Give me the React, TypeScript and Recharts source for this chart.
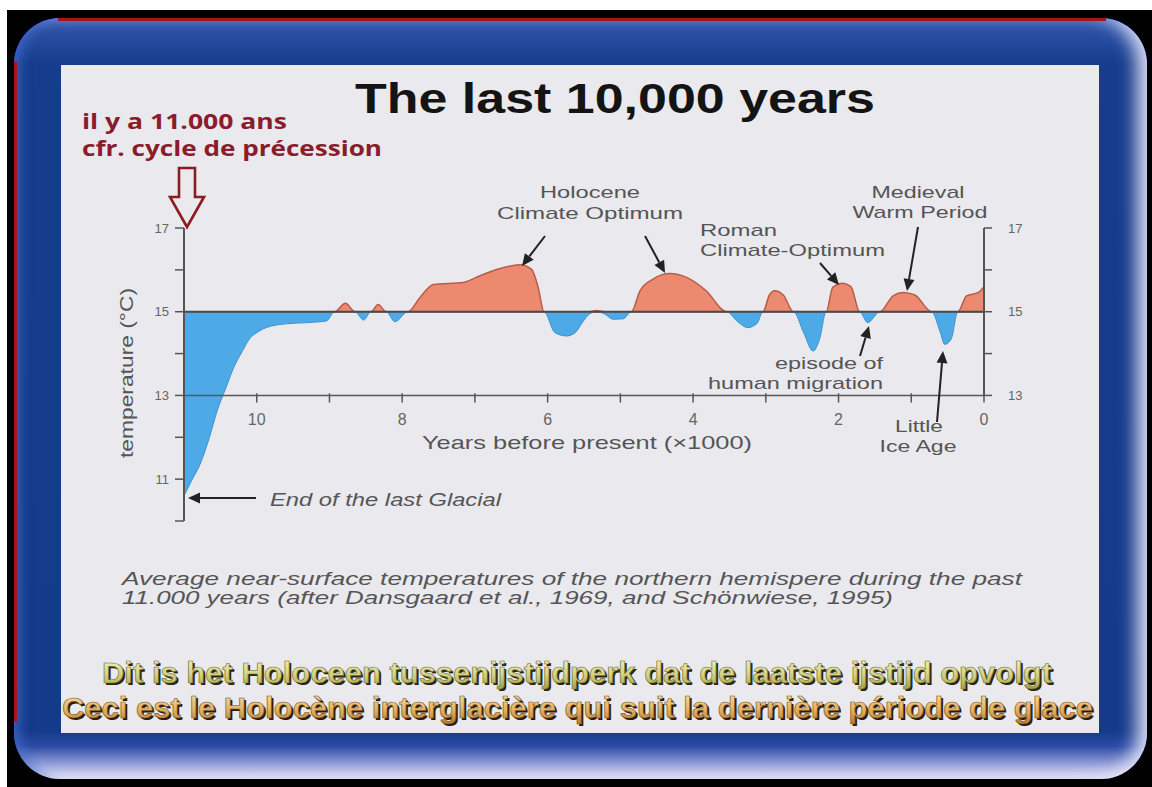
import React from 'react';
import { ComposedChart, Area, XAxis, YAxis, ReferenceLine, ReferenceDot } from 'recharts';

// ---- data (years before present ×1000, temperature °C) ----
const ages = [
  11.0, 10.9, 10.78, 10.65, 10.55, 10.42, 10.32, 10.2, 10.1, 9.98, 9.87, 9.6, 9.3, 9.04,
  8.93, 8.78, 8.65, 8.53, 8.43, 8.33, 8.22, 8.1, 7.92, 7.76, 7.57, 7.16, 6.93, 6.7, 6.38,
  6.22, 6.13, 6.05, 5.9, 5.74, 5.62, 5.52, 5.42, 5.33, 5.22, 5.1, 4.96, 4.85, 4.73, 4.55,
  4.32, 4.09, 3.82, 3.54, 3.38, 3.25, 3.12, 3.04, 2.95, 2.88, 2.76, 2.62, 2.48, 2.35, 2.26,
  2.17, 2.08, 1.94, 1.83, 1.71, 1.6, 1.43, 1.25, 1.11, 0.95, 0.72, 0.6, 0.54, 0.45, 0.36,
  0.24, 0.08, 0.0,
];
const temps = [
  10.6, 10.95, 11.35, 12.0, 12.6, 13.2, 13.65, 14.05, 14.35, 14.52, 14.62, 14.71, 14.74, 14.78,
  15.0, 15.2, 15.0, 14.8, 15.0, 15.17, 15.0, 14.76, 15.0, 15.33, 15.65, 15.7, 15.86, 16.01, 16.12,
  16.01, 15.58, 15.0, 14.5, 14.42, 14.5, 14.75, 14.95, 15.03, 14.95, 14.82, 14.83, 15.0, 15.5, 15.78,
  15.91, 15.82, 15.5, 15.0, 14.75, 14.62, 14.72, 15.0, 15.4, 15.5, 15.4, 15.0, 14.5, 14.06, 14.35,
  15.0, 15.58, 15.68, 15.6, 15.0, 14.74, 15.0, 15.38, 15.46, 15.4, 15.0, 14.5, 14.22, 14.35, 15.0,
  15.38, 15.46, 15.6,
];
const BASE_TEMP = 15;
const xLabelTicks = [10, 8, 6, 4, 2, 0];
const xMinorTicks = [0, 1, 2, 3, 4, 5, 6, 7, 8, 9, 10];
const leftTicks = [10, 11, 12, 13, 14, 15, 16, 17];
const rightTicks = [13, 14, 15, 16, 17];

const data = ages.map((age, i) => ({ age, temp: temps[i] }));

const SANS = '"Liberation Sans", Arial, Helvetica, sans-serif';
const NARROW = '"Liberation Sans Narrow", "Liberation Sans", Arial, sans-serif';
const NOTE = '"Open Sans", Lato, sans-serif';

type TProps = {
  x: number; y: number; w: number; size: number; anchor?: 'start' | 'middle' | 'end';
  fill?: string; weight?: number | string; italic?: boolean; family?: string; children: React.ReactNode;
  transform?: string; stroke?: string; strokeWidth?: number;
};
const T = ({ x, y, w, size, anchor = 'start', fill = '#555', weight = 400, italic, family = SANS, children, transform, stroke, strokeWidth }: TProps) => (
  <text x={x} y={y} fontSize={size} textAnchor={anchor} fill={fill} fontWeight={weight}
    fontStyle={italic ? 'italic' : 'normal'} fontFamily={family} textLength={w}
    lengthAdjust="spacingAndGlyphs" transform={transform} stroke={stroke} strokeWidth={strokeWidth}>
    {children}
  </text>
);

const Arrow = ({ x1, y1, x2, y2, color = '#222' }: { x1: number; y1: number; x2: number; y2: number; color?: string }) => {
  const a = Math.atan2(y2 - y1, x2 - x1);
  const L = 12, W = 5.5;
  const bx = x2 - L * Math.cos(a), by = y2 - L * Math.sin(a);
  const p1 = `${bx + W * Math.sin(a)},${by - W * Math.cos(a)}`;
  const p2 = `${bx - W * Math.sin(a)},${by + W * Math.cos(a)}`;
  return (
    <g>
      <line x1={x1} y1={y1} x2={bx} y2={by} stroke={color} strokeWidth={2} />
      <polygon points={`${x2},${y2} ${p1} ${p2}`} fill={color} />
    </g>
  );
};

const Overlay = () => (
  <svg width={1152} height={787} style={{ position: 'absolute', left: 0, top: 0, pointerEvents: 'none' }}>
    <defs>
      <linearGradient id="gNl" x1="0" y1="0" x2="0" y2="1">
        <stop offset="0%" stopColor="#f4f4c4" />
        <stop offset="55%" stopColor="#d4d48a" />
        <stop offset="100%" stopColor="#a2a24c" />
      </linearGradient>
      <linearGradient id="gFr" x1="0" y1="0" x2="0" y2="1">
        <stop offset="0%" stopColor="#fbe2a8" />
        <stop offset="55%" stopColor="#e4b468" />
        <stop offset="100%" stopColor="#b47a30" />
      </linearGradient>
    </defs>

    {/* title */}
    <T x={615} y={113} w={520} size={43} anchor="middle" fill="#141414" weight={700} family={NARROW}>The last 10,000 years</T>

    {/* red note */}
    <T x={82} y={129} w={205} size={21} fill="#8c1b2c" weight={700} family={NOTE}>il y a 11.000 ans</T>
    <T x={82} y={156} w={300} size={21} fill="#8c1b2c" weight={700} family={NOTE}>cfr. cycle de précession</T>
    <path d="M179,168 L195,168 L195,197 L204,197 L187,227 L170,197 L179,197 Z" fill="none" stroke="#8c1b22" strokeWidth={2.6} strokeLinejoin="miter" />

    {/* annotations */}
    <T x={590} y={198} w={100} size={17} anchor="middle">Holocene</T>
    <T x={590} y={219} w={186} size={17} anchor="middle">Climate Optimum</T>
    <Arrow x1={545} y1={236} x2={522} y2={266} />
    <Arrow x1={645} y1={236} x2={665} y2={273} />

    <T x={700} y={236} w={77} size={17}>Roman</T>
    <T x={700} y={256} w={185} size={17}>Climate-Optimum</T>
    <Arrow x1={820} y1={263} x2={839} y2={285} />

    <T x={918} y={198} w={93} size={17} anchor="middle">Medieval</T>
    <T x={920} y={218} w={135} size={17} anchor="middle">Warm Period</T>
    <Arrow x1={918} y1={227} x2={907} y2={291} />

    <T x={883} y={369} w={108} size={17} anchor="end">episode of</T>
    <T x={883} y={389} w={175} size={17} anchor="end">human migration</T>
    <Arrow x1={860} y1={356} x2={869} y2={326} />

    <T x={919} y={432} w={48} size={17} anchor="middle">Little</T>
    <T x={918} y={452} w={77} size={17} anchor="middle">Ice Age</T>
    <Arrow x1={937} y1={422} x2={943} y2={351} />

    <T x={270} y={506} w={231} size={19} italic>End of the last Glacial</T>
    <Arrow x1={256} y1={498} x2={188} y2={498} />

    {/* axis titles */}
    <T x={587} y={449} w={330} size={19} anchor="middle">Years before present (×1000)</T>
    <T x={0} y={0} w={170} size={19} anchor="middle" transform="translate(133,373) rotate(-90)">temperature (°C)</T>

    {/* caption */}
    <T x={122} y={585} w={900} size={19} italic>Average near-surface temperatures of the northern hemispere during the past</T>
    <T x={122} y={604} w={771} size={19} italic>11.000 years (after Dansgaard et al., 1969, and Schönwiese, 1995)</T>

    {/* bottom bilingual lines */}
    <T x={104} y={685} w={950} size={30} weight={700} fill="#2a2410" family={NARROW}>Dit is het Holoceen tussenijstijdperk dat de laatste ijstijd opvolgt</T>
    <T x={102} y={683} w={950} size={30} weight={700} fill="url(#gNl)" stroke="#6c6a2a" strokeWidth={0.6} family={NARROW}>Dit is het Holoceen tussenijstijdperk dat de laatste ijstijd opvolgt</T>
    <T x={64} y={720} w={1031} size={30} weight={700} fill="#2a1c08" family={NARROW}>Ceci est le Holocène interglacière qui suit la dernière période de glace</T>
    <T x={62} y={718} w={1031} size={30} weight={700} fill="url(#gFr)" stroke="#7a5020" strokeWidth={0.6} family={NARROW}>Ceci est le Holocène interglacière qui suit la dernière période de glace</T>
  </svg>
);

const tickStyle = { fill: '#666', fontSize: 13, fontFamily: SANS };

export default function App() {
  return (
    <div style={{ position: 'absolute', left: 0, top: 0, width: 1152, height: 787, background: '#fff', overflow: 'hidden' }}>
      <div style={{ position: 'absolute', left: 7, top: 10, width: 1145, height: 777, background: '#000' }} />
      <div
        style={{
          position: 'absolute', left: 14, top: 18, width: 1133, height: 761, borderRadius: 46,
          background: 'linear-gradient(to bottom, #3a60b4 0px, #2a50a4 14px, #163c8c 46px, #143a8a 712px, #2a4aa4 728px, #8e9ad6 745px, #dcdcf2 758px, #f2f2fa 761px)',
          boxShadow: 'inset -16px 0 18px -6px rgba(230,230,250,0.95), inset 10px 0 12px -4px rgba(70,110,210,0.7), inset 0 3px 3px -1px rgba(40,70,230,0.9)',
        }}
      />
      {/* thin red edge lines of the frame */}
      <div style={{ position: 'absolute', left: 58, top: 18, width: 1048, height: 3, background: '#a8141c' }} />
      <div style={{ position: 'absolute', left: 14, top: 62, width: 3, height: 660, background: '#a8141c' }} />
      <div style={{ position: 'absolute', left: 61, top: 65, width: 1038, height: 668, background: '#e9e9ee' }} />

      <div style={{ position: 'absolute', left: 0, top: 0, width: 1152, height: 787 }}>
        <ComposedChart width={1152} height={787} data={data} margin={{ top: 228, right: 108, bottom: 266, left: 124 }}>
          <XAxis dataKey="age" type="number" domain={[0, 11]} reversed hide allowDataOverflow />
          <YAxis
            yAxisId="left" domain={[10, 17]} ticks={leftTicks} interval={0} width={60} allowDataOverflow
            tickFormatter={(v: number) => (v % 2 === 1 ? String(v) : '')}
            tick={tickStyle} tickSize={9} tickMargin={6}
            tickLine={{ stroke: '#555', strokeWidth: 1.5 }} axisLine={{ stroke: '#555', strokeWidth: 2 }}
          />
          <YAxis
            yAxisId="right" orientation="right" domain={[10, 17]} ticks={rightTicks} interval={0} width={60} allowDataOverflow
            tickFormatter={(v: number) => (v % 2 === 1 ? String(v) : '')}
            tick={tickStyle} tickSize={8} tickMargin={16}
            tickLine={{ stroke: '#555', strokeWidth: 1.5 }} axisLine={false}
          />
          <Area
            yAxisId="left" type="monotone" dataKey={(d: { temp: number }) => [BASE_TEMP, Math.max(d.temp, BASE_TEMP)]}
            fill="#ec8a6f" fillOpacity={1} stroke="#b85c4a" strokeWidth={1.5} dot={false} activeDot={false}
            isAnimationActive={false}
          />
          <Area
            yAxisId="left" type="monotone" dataKey={(d: { temp: number }) => [Math.min(d.temp, BASE_TEMP), BASE_TEMP]}
            fill="#4eaae6" fillOpacity={1} stroke="#3f92d2" strokeWidth={1} dot={false} activeDot={false}
            isAnimationActive={false}
          />
          <ReferenceLine yAxisId="left" y={BASE_TEMP} stroke="#4a4a4a" strokeWidth={2} />
          <ReferenceLine yAxisId="left" y={13} stroke="#5a5a5a" strokeWidth={1.5} />
          <ReferenceLine yAxisId="left" segment={[{ x: 0, y: 13 }, { x: 0, y: 17 }]} stroke="#555" strokeWidth={2} ifOverflow="visible" />
          {xMinorTicks.map((a) => (
            <ReferenceLine key={`t${a}`} yAxisId="left" segment={[{ x: a, y: 13.05 }, { x: a, y: 12.83 }]} stroke="#555" strokeWidth={1.5} ifOverflow="visible" />
          ))}
          {xLabelTicks.map((a) => (
            <ReferenceDot
              key={`l${a}`} yAxisId="left" x={a} y={13} r={1} fill="none" stroke="none" ifOverflow="visible"
              label={{ value: String(a), position: 'bottom', offset: 17, fill: '#666', fontSize: 16, fontFamily: SANS }}
            />
          ))}
        </ComposedChart>
      </div>

      <Overlay />
    </div>
  );
}
